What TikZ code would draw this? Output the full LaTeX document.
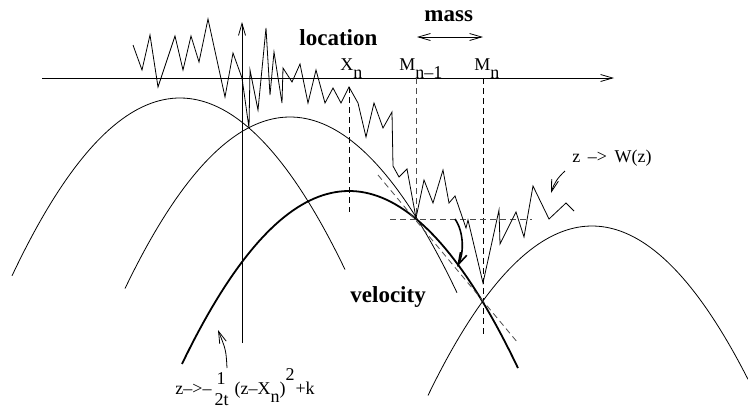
\documentclass[tikz,border=0pt]{standalone}
\usepackage{fontspec}
\setmainfont{Liberation Serif}
\usetikzlibrary{arrows.meta}
\begin{document}
\begin{tikzpicture}[x=1pt, y=-1pt, line width=0.8pt,
    >={Straight Barb[length=12pt,width=7pt]},
    txt/.style={inner sep=0pt, anchor=base west, font=\fontsize{18}{20}\selectfont},
    boldtxt/.style={inner sep=0pt, anchor=base west, font=\fontsize{23}{26}\selectfont\bfseries},
    dashline/.style={dash pattern=on 6pt off 4pt}]
    \useasboundingbox (0,0) rectangle (748,413);
    % axes
    \draw[->] (42,78) -- (614,78);
    \draw[->] (242,343) -- (242,22);
    % thin parabolas: peak x / peak y / from / to
    \foreach \px/\py/\from/\to in {180/98/12/345, 290/117/125/457, 592/226/428/748}{
        \draw[domain=\from:\to, samples=80] plot (\x, {\py+0.63*((\x-\px)/10)^2});
    }
    % thick parabola
    \draw[line width=1.8pt, domain=182:518, samples=80] plot (\x, {191+0.62*((\x-349)/10)^2});
    % dashed guides
    \draw[dashline] (349,87) -- (349,212);
    \draw[dashline, black!70] (416,78) -- (416,219);
    \draw[dashline] (483,78) -- (483,335);
    \draw[dashline, black!70] (390,219) -- (532,219);
    \draw[dashline, black!70] (378,175) -- (518,343);
    % random path
    \draw[line join=miter] (133,45) -- (142,70) -- (150,35) -- (158,87) -- (175,36) -- (183,70)
        -- (191,36) -- (199,62) -- (208,19) -- (225,97) -- (233,53) -- (242,78) -- (249,128)
        -- (250,70) -- (258,110) -- (266,28) -- (270,95) -- (274,52) -- (282,103) -- (283,68)
        -- (292,82) -- (300,64) -- (308,103) -- (316,70) -- (325,103) -- (333,88) -- (341,103)
        -- (349,87) -- (358,103) -- (366,137) -- (374,103) -- (383,128) -- (392,112)
        -- (393,166) -- (399,177) -- (407,169) -- (416,218) -- (424,180) -- (433,203)
        -- (443,170) -- (449,203) -- (455,196) -- (466,228) -- (468,220) -- (483,283)
        -- (499,210) -- (500,244) -- (516,212) -- (524,237) -- (533,186) -- (549,219)
        -- (566,203) -- (574,211);
    % labels
    \node[boldtxt] (location) at (299,45) {location};
    \node[boldtxt] (mass) at (424,21) {mass};
    \node[boldtxt] (velocity) at (350,302) {velocity};
    \node[txt] (xn) at (340,70) {X\raisebox{-8pt}{n}};
    \node[txt] (mprev) at (399,70) {M\raisebox{-8pt}{n–1}};
    \node[txt] (mn) at (474,70) {M\raisebox{-8pt}{n}};
    \node[txt] (wlabel) at (572,162) {z\hspace{3pt} –>\hspace{3pt} W(z)};
    \node[txt] (formula) at (175,394) {z–>–\hspace{3pt}\rlap{\raisebox{10pt}{\hspace{2pt}1}}\raisebox{-11pt}{2t}\hspace{6pt}(z–X\raisebox{-8pt}{n})\raisebox{14pt}{2}\hspace{1pt}+k};
    % arrows
    \coordinate (massl) at (417,37);
    \coordinate (massr) at (483,37);
    \draw[<->] (massl) -- (massr);
    \coordinate (wtail) at (565,171);
    \coordinate (whead) at (551,193);
    \draw[->] (wtail) to[bend right=15] (whead);
    \coordinate (ftail) at (227,368);
    \coordinate (fhead) at (218,330);
    \draw[->] (ftail) .. controls (226,350) .. (fhead);
    \coordinate (ctail) at (455,219);
    \coordinate (chead) at (457,267);
    \draw[->, line width=1.6pt] (ctail) .. controls (464,232) and (464,253) .. (chead);
\end{tikzpicture}
\end{document}
